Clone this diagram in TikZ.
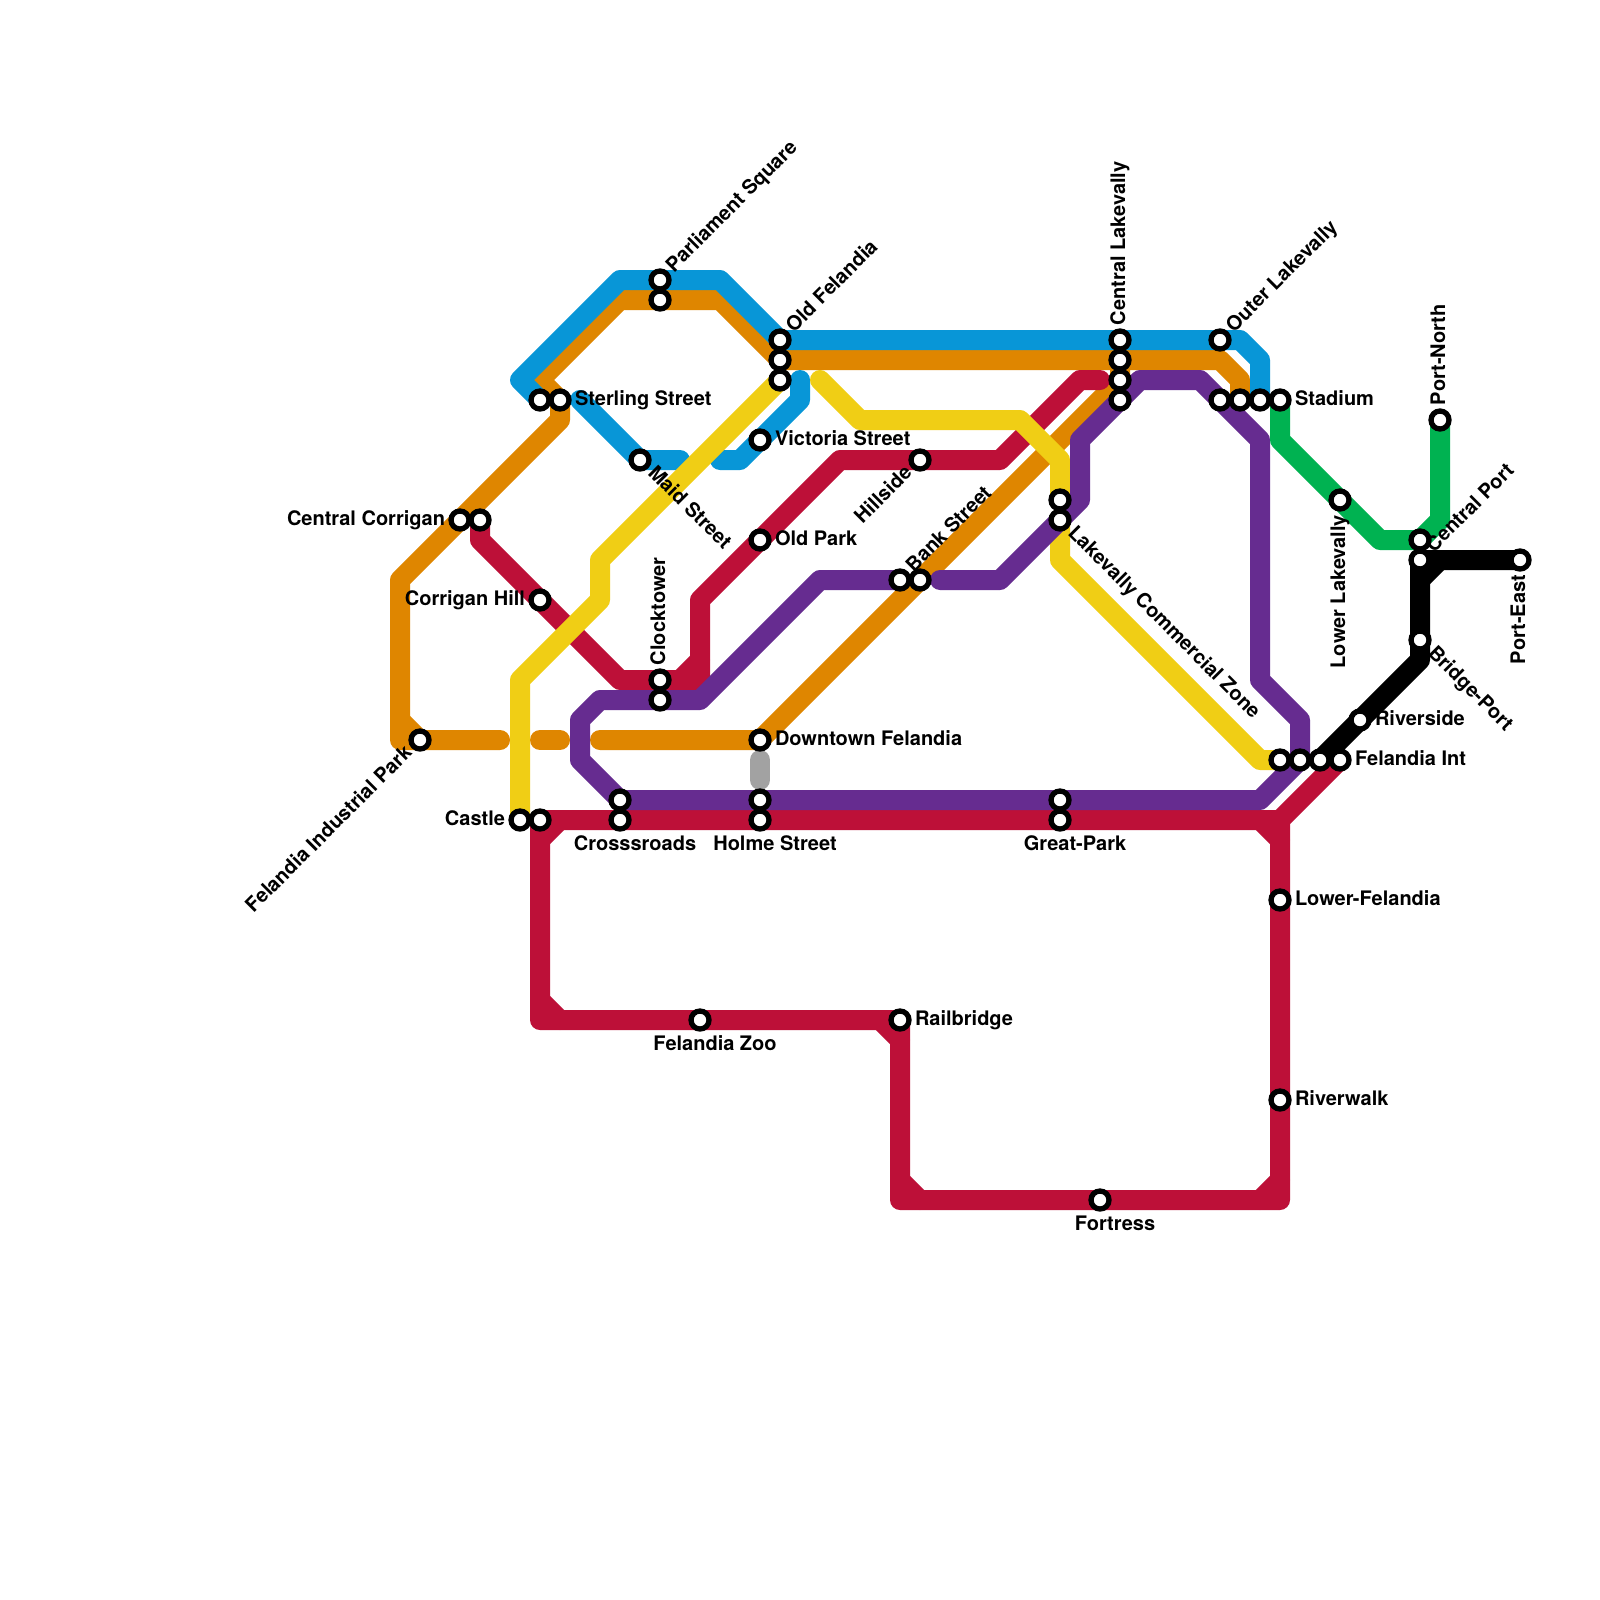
\documentclass[tikz,border=0pt]{standalone}
\usepackage{fontspec}
\setmainfont{TeX Gyre Heros}
\definecolor{lblue}{HTML}{0896D7}
\definecolor{lorange}{HTML}{DF8600}
\definecolor{lred}{HTML}{BD1038}
\definecolor{lpurple}{HTML}{662C90}
\definecolor{lyellow}{HTML}{F0CE15}
\definecolor{lgreen}{HTML}{00B251}
\definecolor{lgrey}{HTML}{A2A2A2}
\pgfdeclarelayer{lines}
\pgfsetlayers{lines,main}
\tikzset{
  stn/.style={circle,draw=black,fill=white,line width=5.3pt,minimum size=18pt,inner sep=0pt},
  lab/.style={inner sep=0pt,outer sep=0pt,font=\bfseries\fontsize{20}{24}\selectfont,text=black},
  tr/.style={lab,anchor=base west},
  tl/.style={lab,anchor=base east},
  tb/.style={lab,anchor=base},
  metro/.style={line width=20pt,line cap=round,line join=round}
}
\begin{document}
\begin{tikzpicture}[x=1pt,y=-1pt]
\useasboundingbox (0,0) rectangle (1600,1600);
% stations
\foreach \n/\x/\y in {pa/660/280,pb/660/300,of1/780/340,of2/780/360,of3/780/380,st1/540/400,st2/560/400,
 maid/640/460,vic/760/440,opark/760/540,cc1/460/520,cc2/480/520,chill/540/600,clk1/660/680,clk2/660/700,
 fip/420/740,down/760/740,cas1/520/820,cas2/540/820,cr1/620/800,cr2/620/820,ho1/760/800,ho2/760/820,
 gp1/1060/800,gp2/1060/820,zoo/700/1020,rail/900/1020,fort/1100/1200,rw/1280/1100,lf/1280/900,
 hill/920/460,bk1/900/580,bk2/920/580,lc1/1060/500,lc2/1060/520,cl1/1120/340,cl2/1120/360,cl3/1120/380,cl4/1120/400,
 ol/1220/340,sd1/1220/400,sd2/1240/400,sd3/1260/400,sd4/1280/400,ll/1340/500,pn/1440/420,cp1/1420/540,cp2/1420/560,
 pe/1520/560,bp/1420/640,riv/1360/720,fi1/1280/760,fi2/1300/760,fi3/1320/760,fi4/1340/760}
 {\node[stn] (\n) at (\x,\y) {};}
% bends
\foreach \n/\x/\y in {a1/520/380,a2/620/280,a3/720/280,a4/1240/340,a5/1260/360,a7/580/400,a8/680/460,
 a9/720/460,a10/740/460,a11/800/400,a12/800/380,
 o1/720/300,o2/620/300,o3/540/380,o4/560/420,o5/400/580,o6/400/740,o7/500/740,o8/540/740,o9/560/740,o10/600/740,o11/1220/360,o12/1240/380,o13/400/720,
 r1/480/540,r2/620/680,r3/700/680,r4/700/600,r5/840/460,r6/1000/460,r7/1080/380,r8/1100/380,r9/680/680,r10/700/660,
 r11/1280/820,r12/540/1020,r13/900/1200,r14/1280/1200,r15/540/840,r16/560/820,r17/540/1000,r18/560/1020,r19/880/1020,r20/900/1040,
 r21/900/1180,r22/920/1200,r23/1260/1200,r24/1280/1180,r25/1260/820,r26/1280/840,
 y1/600/600,y2/520/680,y3/600/560,y4/820/380,y5/860/420,y6/1020/420,y7/1060/460,y8/1060/560,y9/1260/760,
 u1/580/760,u2/580/720,u3/600/700,u4/700/700,u5/820/580,u6/1260/800,u7/1300/720,u8/1260/680,u9/1260/440,u10/1200/380,u11/1140/380,
 u12/1080/440,u13/1080/500,u14/1000/580,u15/940/580,
 g1/1280/440,g2/1380/540,g3/1440/520,
 k1/1420/660,k2/1420/580,k3/1440/560,
 s1/760/760,s2/760/780}
 {\coordinate (\n) at (\x,\y);}
\begin{pgfonlayer}{lines}
\fill[white] (0,0) rectangle (1600,1600);
% orange
\draw[metro,lorange] (of2.center) -- (o1) -- (o2) -- (o3) -- (st2.center) -- (o4) -- (o5) -- (o6) -- (o7);
\draw[metro,lorange] (o13) -- (fip.center);
\draw[metro,lorange] (o8) -- (o9);
\draw[metro,lorange] (o10) -- (down.center) -- (cl3.center) -- (cl2.center) -- (of2.center);
\draw[metro,lorange] (cl2.center) -- (o11) -- (o12) -- (sd2.center);
% blue
\draw[metro,lblue] (st1.center) -- (a1) -- (a2) -- (a3) -- (of1.center) -- (a4) -- (a5) -- (sd3.center);
\draw[metro,lblue] (a7) -- (maid.center) -- (a8);
\draw[metro,lblue] (a9) -- (a10) -- (a11) -- (a12);
% red
\draw[metro,lred] (cc2.center) -- (r1) -- (r2) -- (r3) -- (r4) -- (r5) -- (r6) -- (r7) -- (r8);
\draw[metro,lred] (r9) -- (r10);
\draw[metro,lred] (fi4.center) -- (r11) -- (cas2.center) -- (r12) -- (rail.center) -- (r13) -- (r14) -- (r11);
\draw[metro,lred] (r15) -- (r16);
\draw[metro,lred] (r17) -- (r18);
\draw[metro,lred] (r19) -- (r20);
\draw[metro,lred] (r21) -- (r22);
\draw[metro,lred] (r23) -- (r24);
\draw[metro,lred] (r25) -- (r26);
% yellow
\draw[metro,lyellow] (cas1.center) -- (y2) -- (y1) -- (y3) -- (of3.center);
\draw[metro,lyellow] (y4) -- (y5) -- (y6) -- (y7) -- (lc1.center);
\draw[metro,lyellow] (lc2.center) -- (y8) -- (y9) -- (fi1.center);
% grey
\draw[metro,lgrey] (s1) -- (s2);
% purple
\draw[metro,lpurple] (bk1.center) -- (u5) -- (u4) -- (u3) -- (u2) -- (u1) -- (cr1.center) -- (u6) -- (fi2.center) -- (u7) -- (u8) -- (u9) -- (u10) -- (u11) -- (cl4.center) -- (u12) -- (u13) -- (u14) -- (u15);
% green
\draw[metro,lgreen] (sd4.center) -- (g1) -- (g2) -- (cp1.center) -- (g3) -- (pn.center);
% black
\draw[metro,black] (fi3.center) -- (k1) -- (cp2.center) -- (pe.center);
\draw[metro,black] (k2) -- (k3);
\end{pgfonlayer}
% labels
\node[tr,rotate=45] (t1) at (674,273) {Parliament Square};
\node[tr,rotate=45] (t2) at (794,333) {Old Felandia};
\node[tr,rotate=45] (t3) at (1234,333) {Outer Lakevally};
\node[tr,rotate=45] (t4) at (1434,553) {Central Port};
\node[tr,rotate=45] (t5) at (914,573) {Bank Street};
\node[tr,rotate=90] (t6) at (1125,325) {Central Lakevally};
\node[tr,rotate=90] (t7) at (1445,405) {Port-North};
\node[tr,rotate=90] (t8) at (665,665) {Clocktower};
\node[tr,rotate=-45] (t9) at (647,474) {Maid Street};
\node[tr,rotate=-45] (t10) at (1067,534) {Lakevally Commercial Zone};
\node[tr,rotate=-45] (t11) at (1427,654) {Bridge-Port};
\node[tl,rotate=45] (t12) at (913,474) {Hillside};
\node[tl,rotate=45] (t13) at (413,754) {Felandia Industrial Park};
\node[tl,rotate=90] (t14) at (1345,515) {Lower Lakevally};
\node[tl,rotate=90] (t15) at (1525,575) {Port-East};
\node[tl] (t16) at (445,525) {Central Corrigan};
\node[tl] (t17) at (525,605) {Corrigan Hill};
\node[tl] (t18) at (505,825) {Castle};
\node[tr] (t19) at (575,405) {Sterling Street};
\node[tr] (t20) at (775,445) {Victoria Street};
\node[tr] (t21) at (775,545) {Old Park};
\node[tr] (t22) at (775,745) {Downtown Felandia};
\node[tr] (t23) at (1295,405) {Stadium};
\node[tr] (t24) at (1295,905) {Lower-Felandia};
\node[tr] (t25) at (915,1025) {Railbridge};
\node[tr] (t26) at (1295,1105) {Riverwalk};
\node[tr] (t27) at (1375,725) {Riverside};
\node[tr] (t28) at (1355,765) {Felandia Int};
\node[tb] (t29) at (635,850) {Crosssroads};
\node[tb] (t30) at (775,850) {Holme Street};
\node[tb] (t31) at (1075,850) {Great-Park};
\node[tb] (t32) at (715,1050) {Felandia Zoo};
\node[tb] (t33) at (1115,1230) {Fortress};
\end{tikzpicture}
\end{document}
